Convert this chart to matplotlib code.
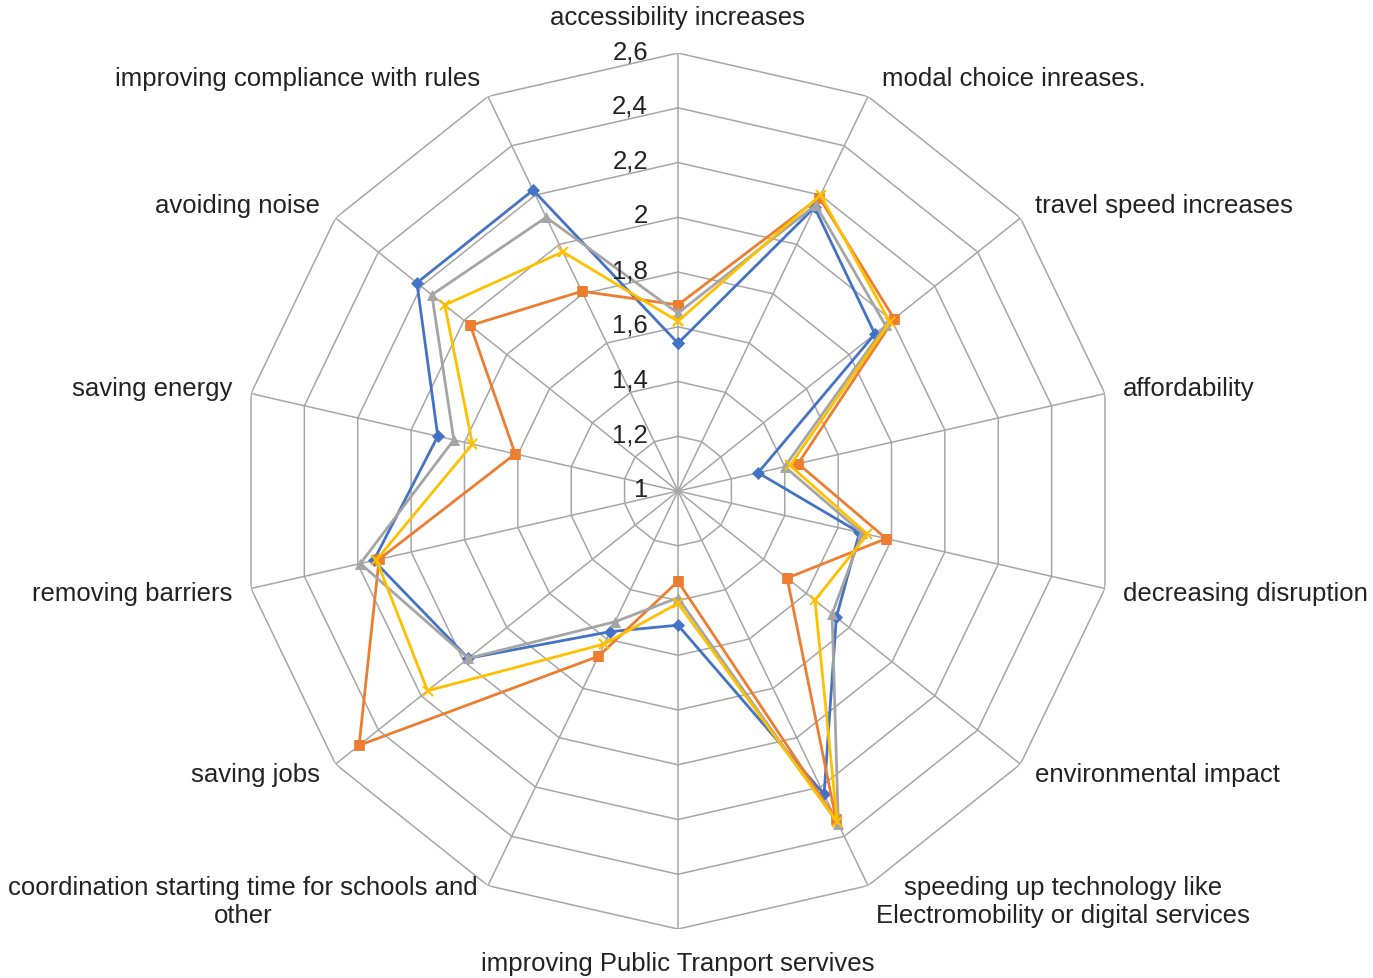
import matplotlib.pyplot as plt
import numpy as np

# 카테고리 (시계 방향, 위쪽부터)
categories = [
    'accessibility increases',
    'modal choice inreases.',
    'travel speed increases',
    'affordability',
    'decreasing disruption',
    'environmental impact',
    'speeding up technology like\nElectromobility or digital services',
    'improving Public Tranport servives',
    'coordination starting time for schools and\nother',
    'saving jobs',
    'removing barriers',
    'saving energy',
    'avoiding noise',
    'improving compliance with rules',
]

# 시리즈 값
blue = [1.54, 2.15, 1.92, 1.30, 1.68, 1.74, 2.23, 1.49, 1.57, 1.98, 2.14, 1.90, 2.22, 2.22]
orange = [1.68, 2.19, 2.01, 1.45, 1.78, 1.51, 2.33, 1.33, 1.67, 2.49, 2.12, 1.61, 1.97, 1.81]
gray = [1.65, 2.16, 1.97, 1.40, 1.69, 1.72, 2.35, 1.39, 1.53, 1.98, 2.19, 1.84, 2.15, 2.11]
yellow = [1.62, 2.20, 1.99, 1.42, 1.71, 1.64, 2.34, 1.41, 1.62, 2.17, 2.13, 1.77, 2.09, 1.97]

r_ticks = [1, 1.2, 1.4, 1.6, 1.8, 2, 2.2, 2.4, 2.6]
r_tick_labels = ['1', '1,2', '1,4', '1,6', '1,8', '2', '2,2', '2,4', '2,6']

plt.rcParams['font.family'] = ['Liberation Sans', 'DejaVu Sans']

n = len(categories)
angles = np.arange(n) * 2 * np.pi / n
closed = np.append(angles, angles[0])

fig = plt.figure(figsize=(13.73, 9.79), dpi=100)
ax = fig.add_axes([0.1748, 0.0500, 0.638, 0.8948], projection='polar')
ax.set_theta_zero_location('N')
ax.set_theta_direction(-1)
ax.set_ylim(1, 2.6)
ax.grid(False)
ax.set_xticks([])
ax.set_yticks([])
ax.spines['polar'].set_visible(False)
ax.patch.set_alpha(0)

grid_c = '#a6a6a6'
# 다각형 격자
for lv in r_ticks[1:]:
    ax.plot(closed, [lv] * (n + 1), color=grid_c, lw=1.1, zorder=1)
# 축선
for a in angles:
    ax.plot([a, a], [1, 2.6], color=grid_c, lw=1.1, zorder=1)

# 데이터
series = [
    (blue, '#4472c4', 'D', 6),
    (orange, '#ed7d31', 's', 6.5),
    (gray, '#a5a5a5', '^', 7),
    (yellow, '#ffc000', 'x', 7),
]
for vals, c, m, ms in series:
    v = np.append(vals, vals[0])
    ax.plot(closed, v, color=c, lw=2.0, marker=m, markersize=ms,
            markeredgewidth=1.5 if m == 'x' else 0.5, zorder=3)

# 눈금 라벨
for r, lab in zip(r_ticks, r_tick_labels):
    ax.annotate(lab, xy=(0, r), xytext=(-30, 2), textcoords='offset pixels',
                ha='right', va='center', fontsize=18.5, color='#222222')

# 카테고리 라벨 위치 (pixel offset)
offsets = [
    (0, 36, 'center'), (14, 18, 'left'), (15, 13, 'left'), (18, 6, 'left'),
    (18, -4, 'left'), (15, -10, 'left'), (8, -15, 'left'), (0, -34, 'center'),
    (-10, -15, 'right'), (-16, -10, 'right'), (-19, -4, 'right'),
    (-19, 6, 'right'), (-16, 13, 'right'), (-8, 18, 'right'),
]
for a, lab, (dx, dy, ha) in zip(angles, categories, offsets):
    ax.annotate(lab, xy=(a, 2.6), xytext=(dx, dy), textcoords='offset pixels',
                ha=ha, va='center', multialignment='center',
                fontsize=18.5, color='#222222', annotation_clip=False)

plt.savefig('out.png', dpi=100)
